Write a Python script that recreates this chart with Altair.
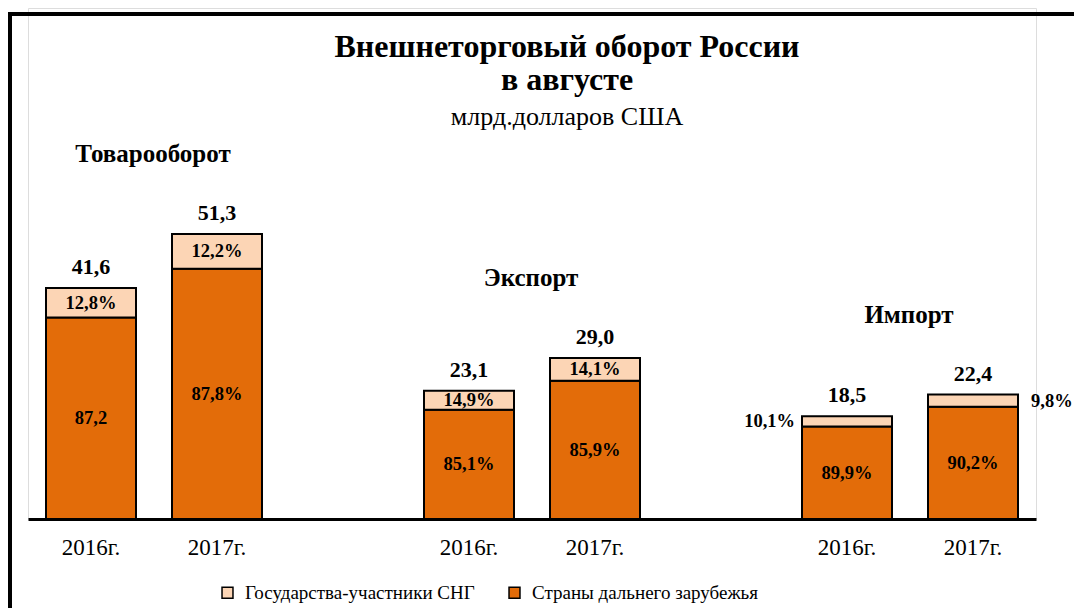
import altair as alt
import pandas as pd

groups = ["Товарооборот", "Товарооборот", "Экспорт", "Экспорт", "Импорт", "Импорт"]
years = ["2016г.", "2017г.", "2016г.", "2017г.", "2016г.", "2017г."]
totals = [41.6, 51.3, 23.1, 29.0, 18.5, 22.4]
total_labels = ["41,6", "51,3", "23,1", "29,0", "18,5", "22,4"]
cis_pct = [12.8, 12.2, 14.9, 14.1, 10.1, 9.8]
far_pct = [87.2, 87.8, 85.1, 85.9, 89.9, 90.2]
cis_labels = ["12,8%", "12,2%", "14,9%", "14,1%", "10,1%", "9,8%"]
far_labels = ["87,2", "87,8%", "85,1%", "85,9%", "89,9%", "90,2%"]
seg_cis = "Государства-участники СНГ"
seg_far = "Страны дальнего зарубежья"
x_domain = ["Т|2016г.", "Т|2017г.", "gap1", "Э|2016г.", "Э|2017г.", "gap2", "И|2016г.", "И|2017г."]
group_codes = {"Товарооборот": "Т", "Экспорт": "Э", "Импорт": "И"}

FONT = "Liberation Serif"

rows = []
for i, (g, yr, t) in enumerate(zip(groups, years, totals)):
    key = group_codes[g] + "|" + yr
    far_h = t * far_pct[i] / 100
    rows.append(dict(key=key, group=g, seg=seg_far, y0=0.0, y1=far_h, mid=far_h / 2,
                     label=far_labels[i], pos="in", idx=i))
    rows.append(dict(key=key, group=g, seg=seg_cis, y0=far_h, y1=t, mid=(far_h + t) / 2,
                     label=cis_labels[i],
                     pos=("left" if i == 4 else "right" if i == 5 else "in"), idx=i))
seg_df = pd.DataFrame(rows)

tot_df = pd.DataFrame(dict(key=[group_codes[g] + "|" + y for g, y in zip(groups, years)],
                           group=groups, total=totals, label=total_labels))

grp_df = (tot_df.groupby("group", sort=False)
          .agg(total=("total", "max")).reset_index())
grp_df["key"] = [group_codes[g] + "|2016г." for g in grp_df["group"]]

xscale = alt.Scale(domain=x_domain, paddingInner=0, paddingOuter=0)
yscale = alt.Scale(domain=[0, 92], nice=False)
xenc = alt.X("key:N", scale=xscale, sort=x_domain,
             axis=alt.Axis(title=None, labelExpr="indexof(datum.label,'|')>=0 ? split(datum.label,'|')[1] : ''",
                           ticks=False, domainColor="black", domainWidth=3,
                           labelFont=FONT, labelFontSize=23, labelColor="black",
                           labelPadding=17, labelAngle=0, grid=False))

bars = alt.Chart(seg_df).mark_bar(size=90, stroke="black", strokeWidth=2).encode(
    x=xenc,
    y=alt.Y("y1:Q", scale=yscale, axis=None),
    y2="y0:Q",
    color=alt.Color("seg:N",
                    scale=alt.Scale(domain=[seg_cis, seg_far], range=["#FCD5B5", "#E36C09"]),
                    legend=alt.Legend(title=None, orient="none", legendX=190, legendY=575,
                                      direction="horizontal", symbolType="square",
                                      symbolSize=120, symbolStrokeColor="black",
                                      symbolStrokeWidth=1.5, labelFont=FONT, labelFontSize=19,
                                      labelColor="black", labelLimit=400, columnPadding=30,
                                      labelOffset=8)),
)

txt_in = alt.Chart(seg_df).transform_filter("datum.pos == 'in'").mark_text(
    font=FONT, fontSize=18.5, fontWeight="bold", color="black", baseline="middle").encode(
    x=alt.X("key:N", scale=xscale, sort=x_domain), y=alt.Y("mid:Q", scale=yscale), text="label:N")

txt_left = alt.Chart(seg_df).transform_filter("datum.pos == 'left'").mark_text(
    font=FONT, fontSize=18.5, fontWeight="bold", color="black", baseline="middle",
    align="right", dx=-52).encode(
    x=alt.X("key:N", scale=xscale, sort=x_domain), y=alt.Y("mid:Q", scale=yscale), text="label:N")

txt_right = alt.Chart(seg_df).transform_filter("datum.pos == 'right'").mark_text(
    font=FONT, fontSize=18.5, fontWeight="bold", color="black", baseline="middle",
    align="left", dx=58).encode(
    x=alt.X("key:N", scale=xscale, sort=x_domain), y=alt.Y("mid:Q", scale=yscale), text="label:N")

txt_tot = alt.Chart(tot_df).mark_text(
    font=FONT, fontSize=22, fontWeight="bold", color="black", baseline="middle", dy=-21).encode(
    x=alt.X("key:N", scale=xscale, sort=x_domain), y=alt.Y("total:Q", scale=yscale), text="label:N")

txt_grp = alt.Chart(grp_df).mark_text(
    font=FONT, fontSize=25, fontWeight="bold", color="black", baseline="middle",
    dx=62, dy=-80).encode(
    x=alt.X("key:N", scale=xscale, sort=x_domain), y=alt.Y("total:Q", scale=yscale), text="group:N")

t1 = alt.Chart(pd.DataFrame(dict(t=["Внешнеторговый оборот России"]))).mark_text(
    font=FONT, fontSize=32, fontWeight="bold", color="black", baseline="middle").encode(
    x=alt.value(539), y=alt.value(39), text="t:N")
t2 = alt.Chart(pd.DataFrame(dict(t=["в августе"]))).mark_text(
    font=FONT, fontSize=32, fontWeight="bold", color="black", baseline="middle").encode(
    x=alt.value(539), y=alt.value(72), text="t:N")
t3 = alt.Chart(pd.DataFrame(dict(t=["млрд.долларов США"]))).mark_text(
    font=FONT, fontSize=26, color="black", baseline="middle").encode(
    x=alt.value(539), y=alt.value(109), text="t:N")

frame_top = alt.Chart(pd.DataFrame(dict(a=[0]))).mark_rule(color="black", strokeWidth=4).encode(
    x=alt.value(-20), x2=alt.value(1080), y=alt.value(6))
frame_left = alt.Chart(pd.DataFrame(dict(a=[0]))).mark_rule(color="black", strokeWidth=4).encode(
    x=alt.value(-18), y=alt.value(4), y2=alt.value(620))

chart = alt.layer(bars, txt_in, txt_left, txt_right, txt_tot, txt_grp, t1, t2, t3,
                  frame_top, frame_left).properties(
    width=1008, height=511,
    padding={"left": 20, "top": 0, "right": 38, "bottom": 89},
    autosize=alt.AutoSizeParams(type="none"),
).configure_view(stroke="transparent", strokeWidth=0).configure(background="white")

chart.save("out.html", embed_options={"renderer": "svg", "actions": False})
